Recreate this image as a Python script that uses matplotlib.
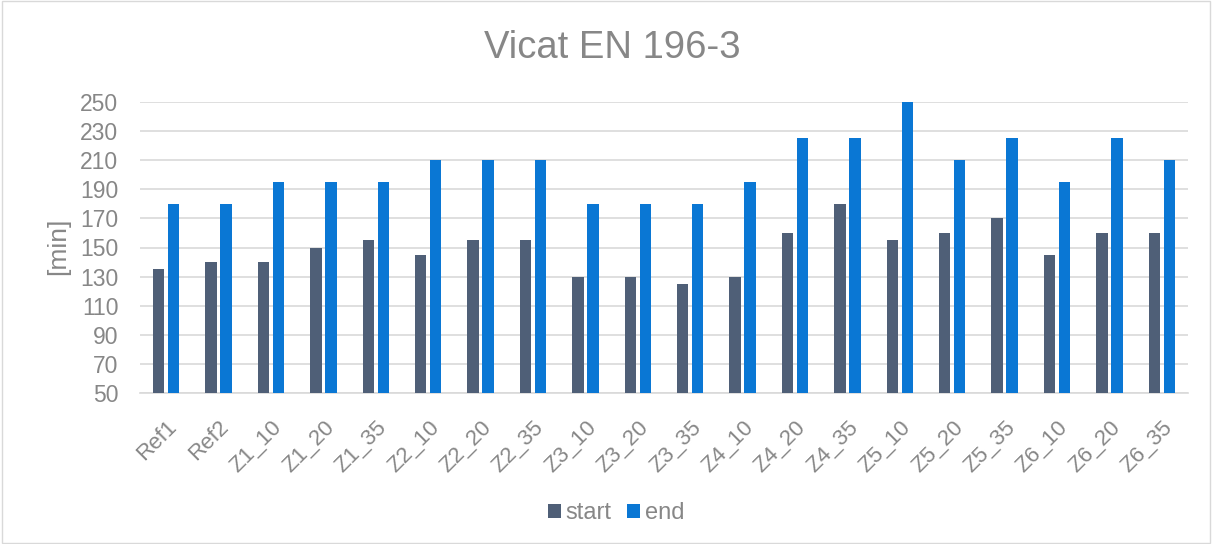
import matplotlib
matplotlib.use("Agg")
import matplotlib.pyplot as plt
import numpy as np

categories = ["Ref1", "Ref2", "Z1_10", "Z1_20", "Z1_35", "Z2_10", "Z2_20", "Z2_35",
              "Z3_10", "Z3_20", "Z3_35", "Z4_10", "Z4_20", "Z4_35", "Z5_10", "Z5_20",
              "Z5_35", "Z6_10", "Z6_20", "Z6_35"]
start = [135, 140, 140, 150, 155, 145, 155, 155, 130, 130, 125, 130, 160, 180, 155, 160, 170, 145, 160, 160]
end = [180, 180, 195, 195, 195, 210, 210, 210, 180, 180, 180, 195, 225, 225, 250, 210, 225, 195, 225, 210]
yticks = [50, 70, 90, 110, 130, 150, 170, 190, 210, 230, 250]

plt.rcParams['font.family'] = ['Liberation Sans', 'DejaVu Sans']
txt = '#878787'
c_start = '#4F5F77'
c_end = '#0A77D4'

fig = plt.figure(figsize=(12.12, 5.44), dpi=100)
ax = fig.add_axes([140/1212, 1-393/544, (1188-140)/1212, (393-102)/544])

x = np.arange(len(categories))
w = 0.22
ax.bar(x - 0.143, np.array(start) - 50, w, bottom=50, color=c_start, label='start', zorder=3)
ax.bar(x + 0.143, np.array(end) - 50, w, bottom=50, color=c_end, label='end', zorder=3)

ax.set_xlim(-0.5, len(categories) - 0.5)
ax.set_ylim(50, 250)
ax.set_yticks(yticks)
ax.set_yticklabels([str(v) for v in yticks], fontsize=16.5, color=txt)
ax.set_xticks(x)
ax.set_xticklabels(categories, rotation=45, ha='right', va='top', rotation_mode='anchor',
                   fontsize=16, color=txt)
ax.tick_params(axis='both', length=0)
ax.tick_params(axis='y', pad=15.5)
ax.tick_params(axis='x', pad=17)
ax.grid(axis='y', color='#D9D9D9', linewidth=1.2, zorder=0)
for s in ['top', 'right', 'left']:
    ax.spines[s].set_visible(False)
ax.spines['bottom'].set_color('#D9D9D9')
ax.spines['bottom'].set_linewidth(1.2)

fig.text(58/1212, 1-246/544, '[min]', ha='center', va='center', rotation=90,
         fontsize=19, color=txt)

fig.text(612/1212, 1-48/544, 'Vicat EN 196-3', ha='center', va='center', fontsize=27.5, color=txt)

leg = fig.legend(loc='center', bbox_to_anchor=(616/1212, 1-513/544), ncol=2, frameon=False,
                 fontsize=17, handlelength=0.55, handleheight=0.55, handletextpad=0.2,
                 columnspacing=0.65, borderpad=0, borderaxespad=0)
for t in leg.get_texts():
    t.set_color(txt)

border = plt.Rectangle((0.0015, 0.0015), 0.997, 0.997, transform=fig.transFigure,
                       fill=False, edgecolor='#D9D9D9', linewidth=1)
fig.patches.append(border)

fig.savefig('out.png', dpi=100)
